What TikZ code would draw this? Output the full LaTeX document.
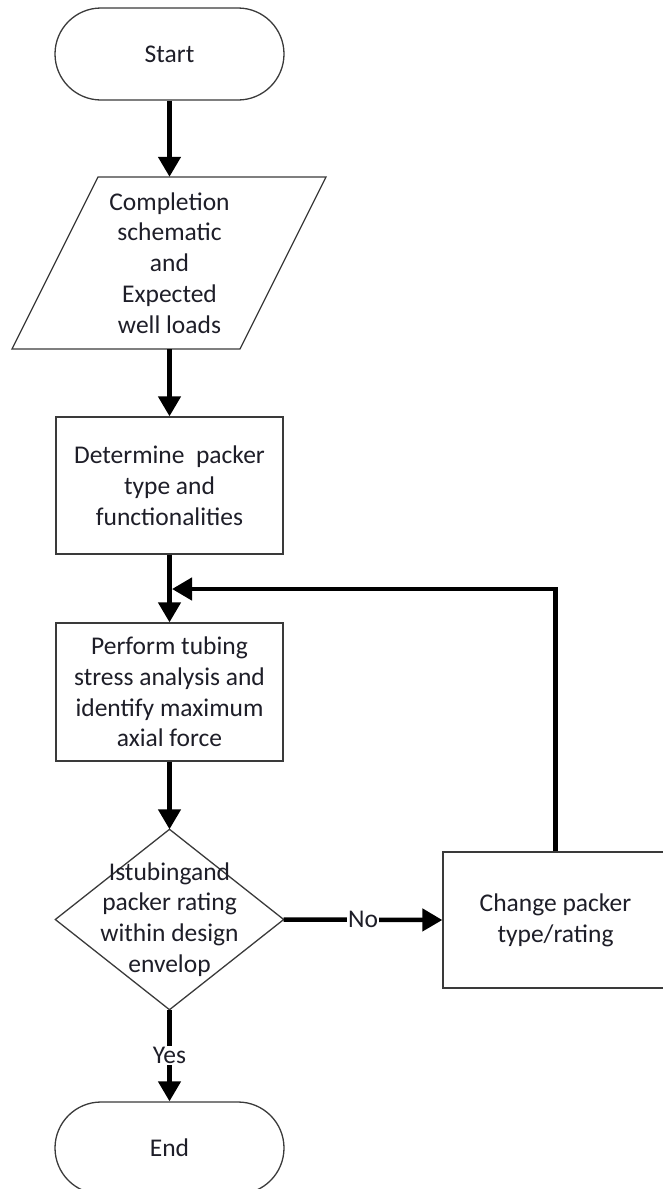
\documentclass[tikz,border=0pt]{standalone}
\usepackage{fontspec}
\setmainfont{Carlito}
\usetikzlibrary{arrows.meta,positioning}
\definecolor{ink}{HTML}{1E1E28}
\definecolor{edge}{HTML}{3A3A3A}
\tikzset{
  box/.style={draw=edge, line width=1.3pt, fill=white, align=center, text=ink,
    inner sep=0pt, font=\fontsize{25.5}{30.8}\selectfont},
  blank/.style={align=center, text=ink, inner sep=0pt,
    font=\fontsize{25.5}{30.8}\selectfont},
  outline/.style={draw=edge, line width=1.3pt},
  flow/.style={line width=4.5pt, -{Triangle[length=20pt,width=22pt]}},
  lbl/.style={fill=white, text=ink, inner sep=1pt, font=\fontsize{25.5}{30.8}\selectfont}
}
\begin{document}
\begin{tikzpicture}[x=1pt,y=-1pt]
\useasboundingbox (0,0) rectangle (662,1189);

% terminal: start
\node[box, minimum width=229pt, minimum height=92pt, rounded corners=46pt] (start) at (169.5,54) {Start};

% input: completion data (parallelogram drawn directly around a text node)
\node[blank, minimum width=228pt, minimum height=172pt] (input) at (169.5,263)
  {Completion\\schematic\\and\\Expected\\well loads};
\draw[outline] (98,177) -- (326,177) -- (240,349) -- (12,349) -- cycle;

% process boxes
\node[box, minimum width=227pt, minimum height=137pt] (packer) at (169.5,485.5)
  {Determine\ \ packer\\type and\\functionalities};
\node[box, minimum width=227pt, minimum height=138pt] (stress) at (169.5,692)
  {Perform tubing\\stress analysis and\\identify maximum\\axial force};

% decision
\node[blank, minimum width=228pt, minimum height=180pt] (check) at (169.5,919.5) {};
\draw[outline] (check.north) -- (check.east) -- (check.south) -- (check.west) -- cycle;
\node[blank] at (check.center) {Istubingand\\packer rating\\within design\\envelop};

% change packer (runs off the right edge)
\node[box, minimum width=225pt, minimum height=136pt] (change) at (555.5,920)
  {Change packer\\type/rating};

% terminal: end
\node[box, minimum width=229pt, minimum height=92pt, rounded corners=46pt] (end) at (169.5,1148) {End};

% connectors
\coordinate (join) at (172,589);
\draw[flow] (start.south) -- (input.north);
\draw[flow] (input.south) -- (packer.north);
\draw[flow] (packer.south) -- (stress.north);
\draw[flow] (stress.south) -- (check.north);
\draw[flow] (check.east) -- node[lbl, pos=0.5] {No} (change.west);
\draw[flow] (check.south) -- node[lbl, pos=0.5] {Yes} (end.north);
\draw[flow] (change.north) |- (join);
\end{tikzpicture}
\end{document}
